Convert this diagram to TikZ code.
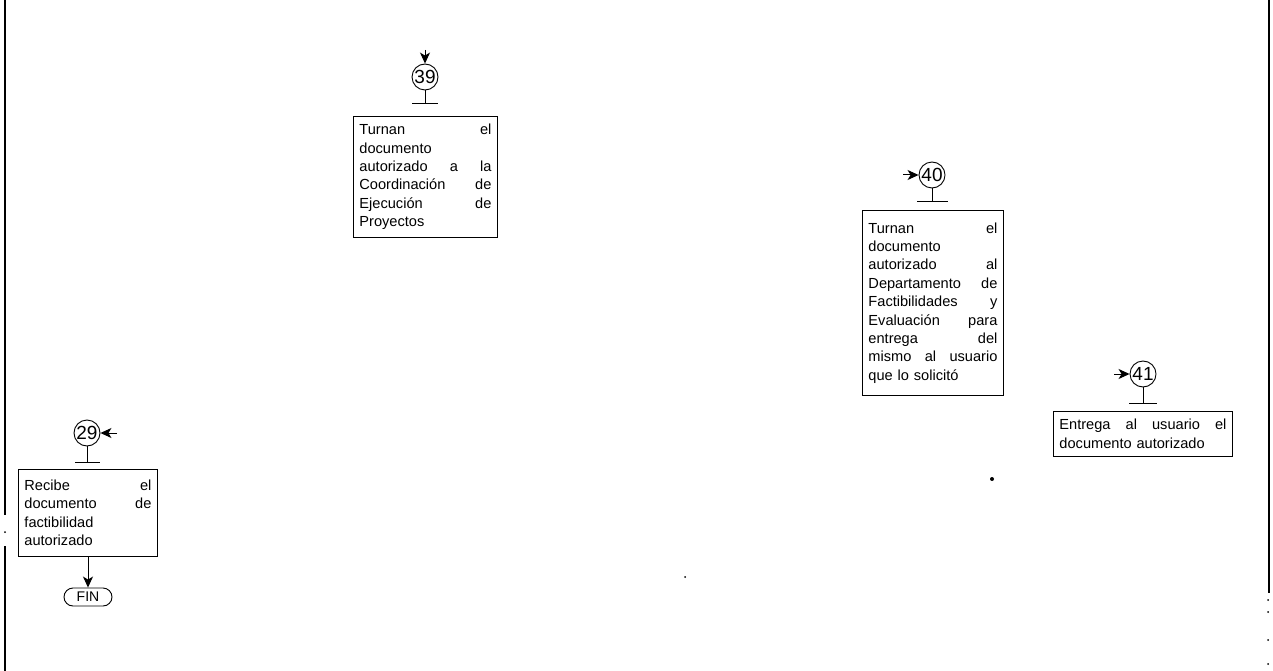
\documentclass[tikz,border=0pt]{standalone}
\usepackage{fontspec}
\setmainfont{Liberation Sans}
\usetikzlibrary{arrows.meta,shapes.misc}
\newcommand\boxfont{\fontsize{14.6}{18.4}\selectfont}
\newcommand\numfont{\fontsize{19}{19}\selectfont}
\tikzset{
  procbox/.style={draw, line width=0.9pt, anchor=north west, inner xsep=6pt, inner ysep=0pt,
                  align=left, font=\boxfont},
  conn/.style={draw, circle, line width=0.9pt, minimum size=26pt, inner sep=0pt, font=\numfont},
  inarrow/.style={line width=1pt, -{Stealth[length=11pt,width=10pt,inset=3pt]}},
  stem/.style={line width=1pt},
  term/.style={draw, rounded rectangle, line width=0.9pt, minimum width=48pt, minimum height=18pt,
               inner sep=0pt, font=\fontsize{14}{14}\selectfont},
  frame/.style={line width=1.3pt},
}
\begin{document}
\begin{tikzpicture}[x=1pt,y=-1pt]
\useasboundingbox (0,0) rectangle (1273,671);
% page frame lines
\coordinate (lt) at (5,0); \coordinate (lm1) at (5,515);
\coordinate (lm2) at (5,546); \coordinate (lb) at (5,671);
\draw[frame] (lt) -- (lm1);
\draw[frame] (lm2) -- (lb);
\coordinate (rt) at (1269,0); \coordinate (rb) at (1269,593);
\draw[frame] (rt) -- (rb);
\fill (5,532) circle (1pt);
\fill (1268,600) circle (1pt);
\fill (1268,612) circle (1pt);
\fill (1268,640) circle (1pt);
\fill (1268,664) circle (1pt);

% ---- 39
\node[conn] (c39) at (425,77) {39};
\coordinate (a39) at (425,50);
\draw[inarrow] (a39) -- (c39.north);
\coordinate (s39) at (425,104);
\coordinate (bl39) at (412,104); \coordinate (br39) at (438,104);
\draw[stem] (c39.south) -- (s39);
\draw[stem] (bl39) -- (br39);
\node[procbox, text width=132pt, minimum width=144pt, minimum height=121pt] (b39) at (353,116)
  {Turnan\hfill el\\ documento\\ autorizado\hfill a\hfill la\\ Coordinación\hfill de\\ Ejecución\hfill de\\ Proyectos};

% ---- 40
\node[conn] (c40) at (932,175) {40};
\coordinate (a40) at (903,175);
\draw[inarrow] (a40) -- (c40.west);
\coordinate (s40) at (932,201);
\coordinate (bl40) at (917,201); \coordinate (br40) at (948,201);
\draw[stem] (c40.south) -- (s40);
\draw[stem] (bl40) -- (br40);
\node[procbox, text width=129pt, minimum width=141pt, minimum height=185pt] (b40) at (862,210)
  {Turnan\hfill el\\ documento\\ autorizado\hfill al\\ Departamento\hfill de\\ Factibilidades\hfill y\\ Evaluación\hfill para\\ entrega\hfill del\\ mismo\hfill al\hfill usuario\\ que lo solicitó};

% ---- 41
\node[conn] (c41) at (1143,374) {41};
\coordinate (a41) at (1114,374);
\draw[inarrow] (a41) -- (c41.west);
\coordinate (s41) at (1143,403);
\coordinate (bl41) at (1129,403); \coordinate (br41) at (1157,403);
\draw[stem] (c41.south) -- (s41);
\draw[stem] (bl41) -- (br41);
\node[procbox, text width=167pt, minimum width=179pt, minimum height=45pt] (b41) at (1053,411)
  {Entrega\hfill al\hfill usuario\hfill el\\ documento autorizado};

% ---- 29
\node[conn] (c29) at (87,433) {29};
\coordinate (a29) at (117,433);
\draw[inarrow] (a29) -- (c29.east);
\coordinate (s29) at (87,462);
\coordinate (bl29) at (75,462); \coordinate (br29) at (100,462);
\draw[stem] (c29.south) -- (s29);
\draw[stem] (bl29) -- (br29);
\node[procbox, text width=127pt, minimum width=139pt, minimum height=87pt] (b29) at (18,469)
  {Recibe\hfill el\\ documento\hfill de\\ factibilidad\\ autorizado};
\node[term] (fin) at (88,597) {FIN};
\draw[inarrow] (b29.south -| fin.north) -- (fin.north);

% stray dots
\fill (992,479) circle (2pt);
\fill (685,577) circle (1pt);
\end{tikzpicture}
\end{document}
